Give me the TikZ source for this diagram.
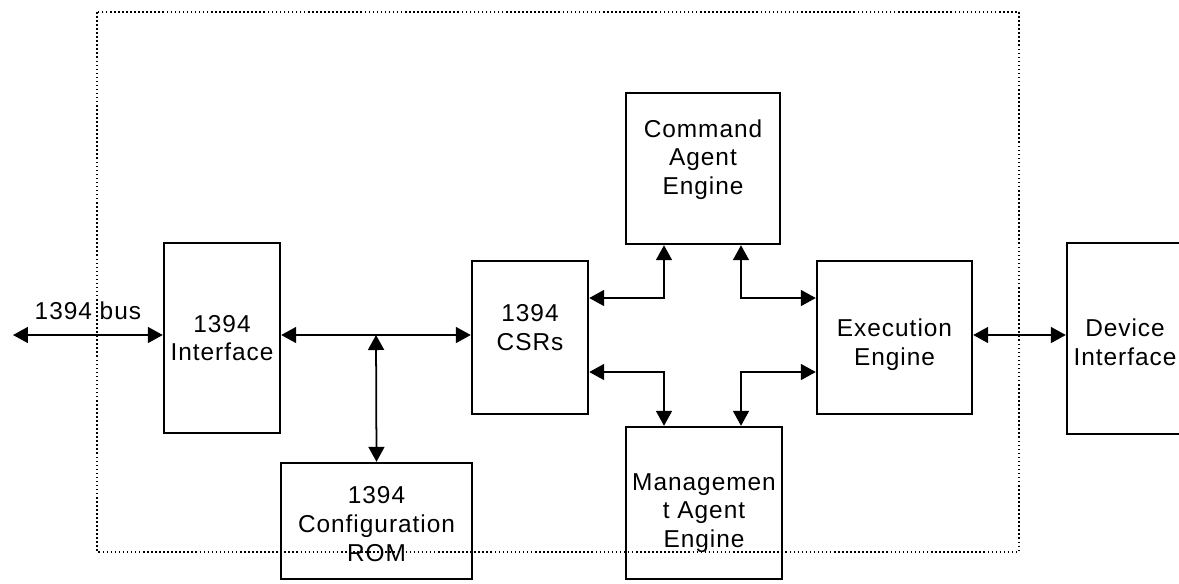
\documentclass[tikz,border=0pt]{standalone}
\usepackage{fontspec}
\setmainfont{Liberation Sans}[LetterSpace=4]
\usetikzlibrary{arrows.meta}

\begin{document}
\begin{tikzpicture}[x=0.02cm,y=-0.02cm,
    box/.style={draw, line width=1.4pt, inner sep=0pt},
    txt/.style={align=center, inner sep=0pt, font=\fontsize{13.9}{16.3}\selectfont},
    link/.style={{Triangle[length=0.3cm,width=0.32cm]}-{Triangle[length=0.3cm,width=0.32cm]}, line width=1pt},
    frame/.style={line width=1.4pt, dash pattern=on 0.9pt off 1.4pt}]
  \useasboundingbox (0,0) rectangle (1179,583);
  \draw[frame] (97,12) rectangle (1019,552);

  \node[box, minimum width=2.32cm, minimum height=3.8cm] (iface) at (222,338) {};
  \node[box, minimum width=2.32cm, minimum height=3.06cm] (csr) at (530,337.5) {};
  \node[box, minimum width=3.08cm, minimum height=3.02cm] (cmd) at (703,168.5) {};
  \node[box, minimum width=3.12cm, minimum height=3.04cm] (mgmt) at (704,503) {};
  \node[box, minimum width=3.1cm, minimum height=3.06cm] (exec) at (894.5,337.5) {};
  \node[box, minimum width=2.32cm, minimum height=3.82cm] (dev) at (1125,338.5) {};
  \node[box, minimum width=3.82cm, minimum height=2.32cm] (rom) at (376.5,521) {};

  % box texts
  \node[txt] (ifacetxt) at (iface.center) {1394\\Interface};
  \node[txt] (csrtxt) at ([yshift=0.2cm]csr.center) {1394\\CSRs};
  \node[txt] (cmdtxt) at ([yshift=0.18cm]cmd.center) {Command\\Agent\\Engine};
  \node[txt] (mgmttxt) at ([yshift=-0.2cm]mgmt.center) {Managemen\\t Agent\\Engine};
  \node[txt] (exectxt) at ([yshift=-0.14cm]exec.center) {Execution\\Engine};
  \node[txt] (devtxt) at ([yshift=-0.08cm]dev.center) {Device\\Interface};
  \node[txt] (romtxt) at ([yshift=-0.06cm]rom.center) {1394\\Configuration\\ROM};

  \coordinate (busend) at (13,335);
  \coordinate (jct) at (376,335);
  \coordinate (ul) at (664,298);
  \coordinate (ur) at (741,298);
  \coordinate (ll) at (664,372);
  \coordinate (lr) at (741,372);

  \draw[link] (busend) -- (busend -| iface.west)
    node [txt, midway, above=8pt] (buslabel) {1394 bus};
  \draw[link] (jct -| iface.east) -- (jct -| csr.west);
  \draw[link] (jct) -- (rom.north);
  \draw[link] (ul -| csr.east) -- (ul) -- (ul |- cmd.south);
  \draw[link] (ur |- cmd.south) -- (ur) -- (ur -| exec.west);
  \draw[link] (ll -| csr.east) -- (ll) -- (ll |- mgmt.north);
  \draw[link] (lr |- mgmt.north) -- (lr) -- (lr -| exec.west);
  \draw[link] (jct -| exec.east) -- (jct -| dev.west);
\end{tikzpicture}
\end{document}
